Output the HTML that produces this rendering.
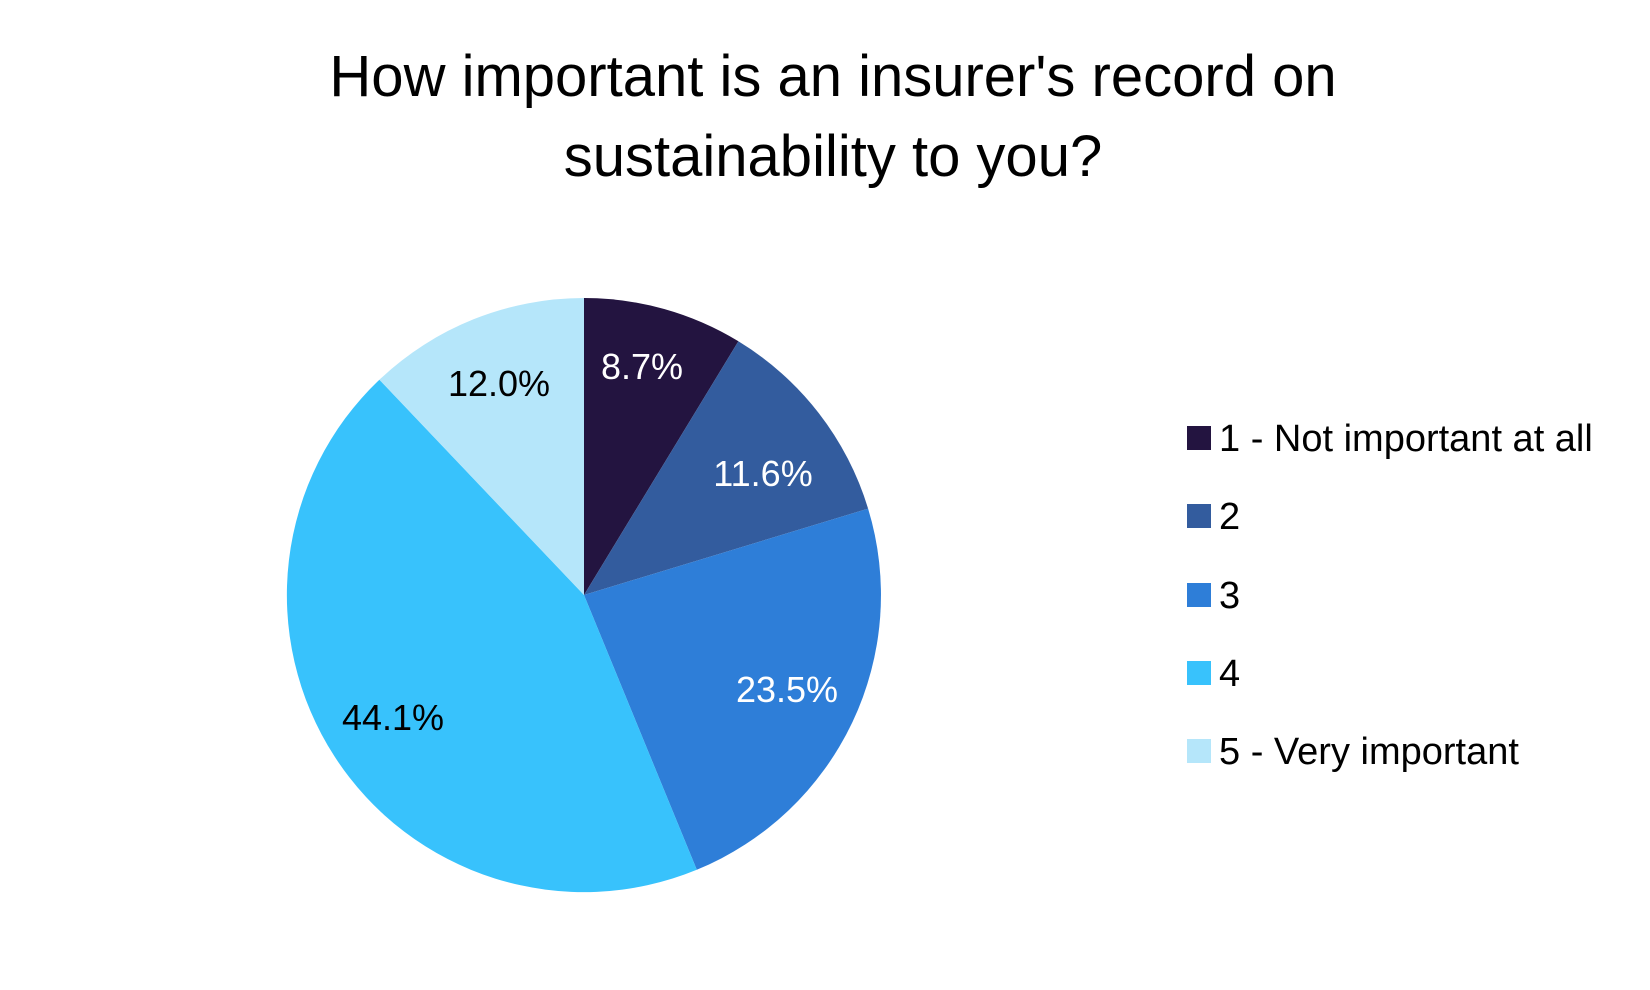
<!DOCTYPE html>
<html><head><meta charset="utf-8"><style>
html,body{margin:0;padding:0;background:#fff;}
svg{display:block;font-family:"Liberation Sans",sans-serif;}
</style></head><body>
<svg width="1650" height="990" viewBox="0 0 1650 990" xmlns="http://www.w3.org/2000/svg">
<rect width="1650" height="990" fill="#fff"/>
<text x="833" y="96" font-size="58" text-anchor="middle" fill="#000">How important is an insurer's record on</text>
<text x="833" y="176" font-size="58" text-anchor="middle" fill="#000">sustainability to you?</text>
<g transform="translate(584,595)">
<path d="M0,0 L0,-297 A297,297 0 0,1 154.4,-253.7 Z" fill="#231440"/>
<path d="M0,0 L154.4,-253.7 A297,297 0 0,1 284.1,-86.4 Z" fill="#335C9E"/>
<path d="M0,0 L284.1,-86.4 A297,297 0 0,1 112.8,274.8 Z" fill="#2E7ED8"/>
<path d="M0,0 L112.8,274.8 A297,297 0 0,1 -204.6,-215.3 Z" fill="#38C2FC"/>
<path d="M0,0 L-204.6,-215.3 A297,297 0 0,1 0,-297 Z" fill="#B5E6FA"/>
</g>
<g font-size="36" text-anchor="middle">
<text x="642" y="379" fill="#fff">8.7%</text>
<text x="763" y="486" fill="#fff">11.6%</text>
<text x="787" y="702" fill="#fff">23.5%</text>
<text x="393" y="730" fill="#000">44.1%</text>
<text x="499" y="396" fill="#000">12.0%</text>
</g>
<g font-size="38" fill="#000">
<rect x="1187" y="426" width="24" height="24" fill="#231440"/><text x="1219" y="451">1 - Not important at all</text>
<rect x="1187" y="504" width="24" height="24" fill="#335C9E"/><text x="1219" y="529">2</text>
<rect x="1187" y="583" width="24" height="24" fill="#2E7ED8"/><text x="1219" y="608">3</text>
<rect x="1187" y="661" width="24" height="24" fill="#38C2FC"/><text x="1219" y="686">4</text>
<rect x="1187" y="739" width="24" height="24" fill="#B5E6FA"/><text x="1219" y="764">5 - Very important</text>
</g>
</svg>
</body></html>
